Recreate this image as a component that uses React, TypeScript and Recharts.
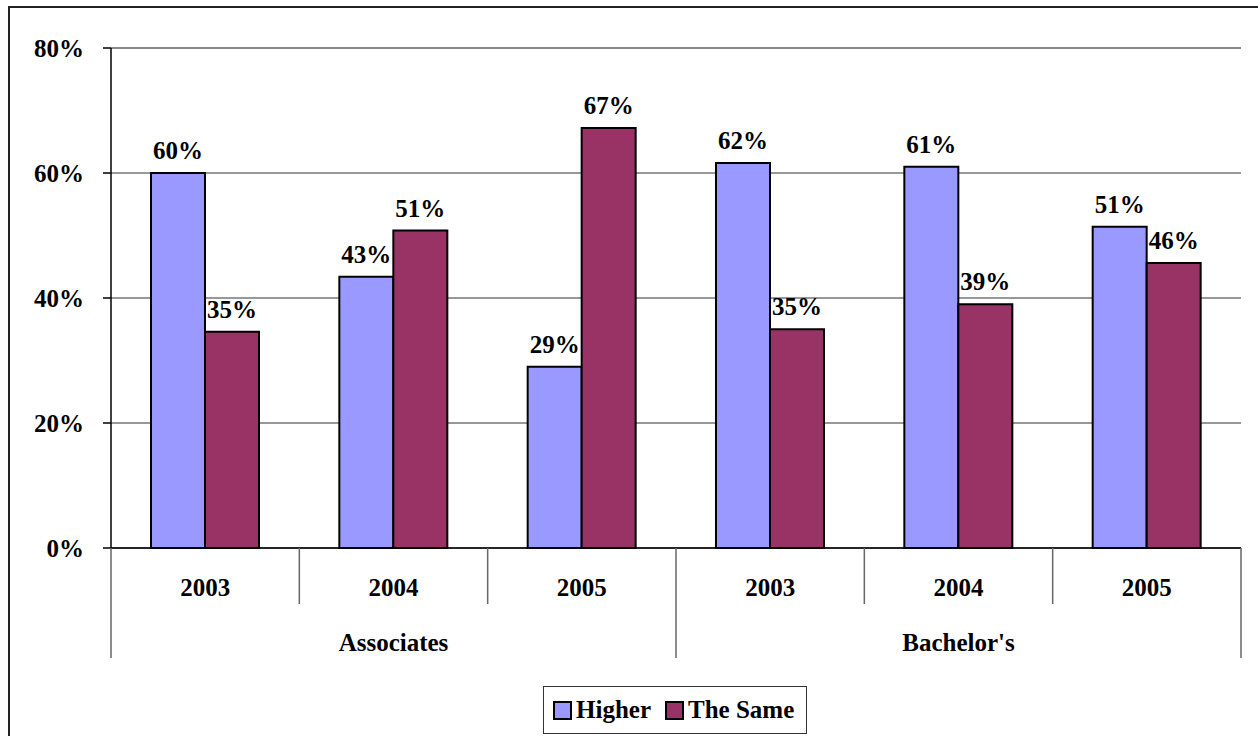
import React from 'react';
import {
  BarChart,
  Bar,
  XAxis,
  YAxis,
  CartesianGrid,
  ReferenceLine,
  LabelList,
  Legend,
} from 'recharts';

const years = ['2003', '2004', '2005', '2003', '2004', '2005'];
const groupNames = ['Associates', "Bachelor's"];
const groupIndex = [0, 0, 0, 1, 1, 1];
const higher = [0.6, 0.434, 0.29, 0.616, 0.61, 0.514];
const theSame = [0.346, 0.508, 0.672, 0.35, 0.39, 0.456];
const yTicks = [0, 0.2, 0.4, 0.6, 0.8];

const SERIES = [
  { key: 'higher', name: 'Higher', color: '#9999FF' },
  { key: 'theSame', name: 'The Same', color: '#993366' },
];

const FONT = "'Liberation Serif', 'Times New Roman', Times, 'DejaVu Serif', serif";

const data = years.map((year, i) => ({
  id: i,
  year,
  group: groupNames[groupIndex[i]],
  higher: higher[i],
  theSame: theSame[i],
}));

const pct = (v: number) => `${Math.round(v * 100)}%`;

// two-level category axis: year labels, group labels and separator lines
const CategoryTick = (props: any) => {
  const { x, y, payload, index } = props;
  const half = payload.offset ?? 94;
  const i = index ?? payload.index;
  const left = x - half;
  const right = x + half;
  const groupStart = i === 0 || groupIndex[i] !== groupIndex[i - 1];
  const isLast = i === years.length - 1;
  const showGroup = i % 3 === 1;
  return (
    <g>
      <line x1={left} y1={y} x2={left} y2={y + (groupStart ? 110 : 56)} stroke="#666" strokeWidth={1.5} />
      {isLast && <line x1={right} y1={y} x2={right} y2={y + 110} stroke="#666" strokeWidth={1.5} />}
      <text x={x} y={y + 48} textAnchor="middle" style={{ fontFamily: FONT, fontWeight: 'bold', fontSize: 25 }} fill="#000">
        {years[i]}
      </text>
      {showGroup && (
        <text x={x} y={y + 103} textAnchor="middle" style={{ fontFamily: FONT, fontWeight: 'bold', fontSize: 25 }} fill="#000">
          {groupNames[groupIndex[i]]}
        </text>
      )}
    </g>
  );
};

const LegendBox = () => (
  <div
    style={{
      display: 'flex',
      alignItems: 'center',
      boxSizing: 'border-box',
      height: 48,
      width: 264,
      border: '1.5px solid #333',
      paddingLeft: 9,
      fontFamily: FONT,
      fontWeight: 'bold',
      fontSize: 25,
      whiteSpace: 'nowrap',
      background: '#fff',
    }}
  >
    {SERIES.map((s) => (
      <span key={s.key} style={{ display: 'flex', alignItems: 'center', marginRight: 14 }}>
        <span
          style={{
            display: 'inline-block',
            width: 15,
            height: 15,
            background: s.color,
            border: '2px solid #000',
            marginRight: 4,
          }}
        />
        {s.name}
      </span>
    ))}
  </div>
);

export default function App() {
  return (
    <div style={{ position: 'absolute', left: 0, top: 0, width: 1258, height: 736, overflow: 'hidden', background: '#fff' }}>
      <div
        style={{
          position: 'absolute',
          left: 8,
          top: 6,
          width: 1262,
          height: 740,
          border: '2px solid #222',
        }}
      />
      <BarChart
        width={1258}
        height={736}
        data={data}
        margin={{ top: 48, right: 17, left: 0, bottom: 2 }}
        barCategoryGap={40}
        barGap={0}
        style={{ position: 'absolute', left: 0, top: 0, fontFamily: FONT }}
      >
        <CartesianGrid vertical={false} stroke="#333" strokeWidth={1.2} />
        <ReferenceLine y={0.8} stroke="#888" strokeWidth={2} />
        <XAxis
          dataKey="id"
          type="category"
          height={138}
          tickLine={false}
          tickSize={0}
          tickMargin={0}
          axisLine={{ stroke: '#000', strokeWidth: 1.5 }}
          tick={<CategoryTick />}
          interval={0}
        />
        <YAxis
          width={111}
          domain={[0, 0.8]}
          ticks={yTicks}
          tickFormatter={pct}
          tickSize={8}
          tickMargin={19}
          axisLine={{ stroke: '#000', strokeWidth: 1.5 }}
          tickLine={{ stroke: '#000', strokeWidth: 1.5 }}
          tick={{ style: { fontFamily: FONT, fontWeight: 'bold', fontSize: 25 }, fill: '#000' }}
        />
        <YAxis
          yAxisId="frame"
          orientation="right"
          width={0}
          domain={[0, 0.8]}
          tick={false}
          tickLine={false}
          axisLine={{ stroke: '#888', strokeWidth: 2 }}
        />
        <Legend
          verticalAlign="bottom"
          content={<LegendBox />}
          wrapperStyle={{ left: 543, width: 264 }}
        />
        {SERIES.map((s) => (
          <Bar
            key={s.key}
            dataKey={s.key}
            name={s.name}
            fill={s.color}
            stroke="#000"
            strokeWidth={2}
            isAnimationActive={false}
          >
            <LabelList
              dataKey={s.key}
              position="top"
              offset={14}
              formatter={(v: any) => pct(Number(v))}
              style={{ fontFamily: FONT, fontWeight: 'bold', fontSize: 25, fill: '#000' }}
            />
          </Bar>
        ))}
      </BarChart>
    </div>
  );
}
